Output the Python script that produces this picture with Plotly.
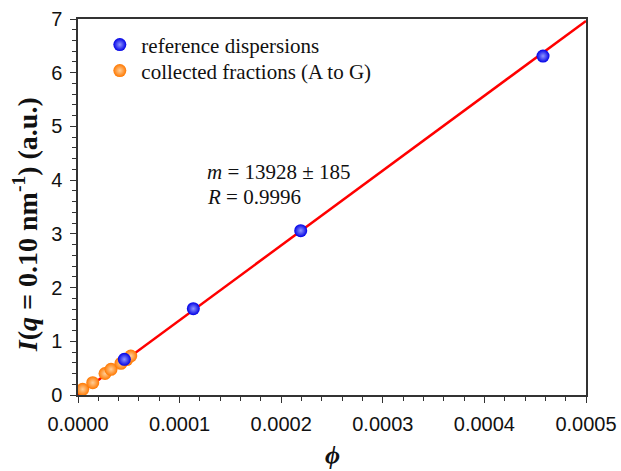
import plotly.graph_objects as go

# Data
ref_phi = [0.0000456, 0.0001135, 0.0002192, 0.0004577]
ref_I = [0.664, 1.607, 3.06, 6.31]
frac_phi = [0.0000046, 0.0000145, 0.0000266, 0.0000325, 0.0000423, 0.0000480, 0.0000519]
frac_I = [0.106, 0.229, 0.40, 0.478, 0.59, 0.66, 0.726]
fit_slope = 13928
fit_x = [0.0, 0.0005]
fit_y = [fit_slope * v for v in fit_x]
x_ticks = [0, 0.0001, 0.0002, 0.0003, 0.0004, 0.0005]
x_ticktext = ["0.0000", "0.0001", "0.0002", "0.0003", "0.0004", "0.0005"]

serif = "Liberation Serif, Times New Roman, serif"
sans = "Liberation Sans, Arial, sans-serif"

fig = go.Figure()
fig.add_trace(go.Scatter(x=fit_x, y=fit_y, mode="lines", line=dict(color="#ff0000", width=2.5),
                         showlegend=False, hoverinfo="skip"))
fig.add_trace(go.Scatter(x=frac_phi, y=frac_I, mode="markers", name="collected fractions (A to G)",
                         legend="legend2",
                         marker=dict(size=13, color="#ff7800", line=dict(width=0),
                                     gradient=dict(type="radial", color="#ffcf99"))))
fig.add_trace(go.Scatter(x=ref_phi, y=ref_I, mode="markers", name="reference dispersions",
                         legend="legend",
                         marker=dict(size=13, color="#0000e6", line=dict(width=0),
                                     gradient=dict(type="radial", color="#8f96ff"))))

axis_common = dict(showline=True, linecolor="#333", linewidth=1.5, mirror=True,
                   ticks="outside", ticklen=6, tickwidth=1.2, tickcolor="#333",
                   showgrid=False, zeroline=False, automargin=False,
                   tickfont=dict(family=sans, size=20, color="#111"))

fig.update_xaxes(range=[0, 0.0005], tickvals=x_ticks, ticktext=x_ticktext,
                 minor=dict(dtick=0.00002, ticks="outside", ticklen=4, tickcolor="#333", tickwidth=1.2),
                 ticklabelstandoff=4,
                 **axis_common)
fig.update_yaxes(range=[0, 7], dtick=1,
                 minor=dict(dtick=0.2, ticks="outside", ticklen=4, tickcolor="#333", tickwidth=1.2),
                 ticklabelstandoff=4,
                 **axis_common)

# axis titles
fig.add_annotation(xref="paper", yref="paper", x=0.5, y=-0.16, xanchor="center", yanchor="middle",
                   showarrow=False, text="<b><i>ϕ</i></b>",
                   font=dict(family=serif, size=26, color="#111"))
fig.add_annotation(xref="paper", yref="paper", x=-0.104, y=0.452, xanchor="center", yanchor="middle",
                   textangle=-90, showarrow=False,
                   text="<b><i>I</i>(<i>q</i> = 0.10 nm<sup>-1</sup>) (a.u.)</b>",
                   font=dict(family=serif, size=28, color="#111"))

fig.add_annotation(xref="x", yref="y", x=0.000125, y=4.15, xanchor="left", yanchor="middle",
                   showarrow=False, align="left",
                   text="<i>m</i> = 13928 ± 185",
                   font=dict(family=serif, size=21, color="#111"))
fig.add_annotation(xref="x", yref="y", x=0.000125, y=3.68, xanchor="left", yanchor="middle",
                   showarrow=False, align="left",
                   text="<i>R</i> = 0.9996",
                   font=dict(family=serif, size=21, color="#111"))

leg_common = dict(xanchor="left", yanchor="middle", x=0.04,
                  font=dict(family=serif, size=21, color="#111"),
                  bgcolor="rgba(0,0,0,0)", itemwidth=33)
fig.update_layout(width=621, height=471, margin=dict(l=78, r=35, t=19, b=76),
                  paper_bgcolor="white", plot_bgcolor="white",
                  legend=dict(y=0.931, **leg_common),
                  legend2=dict(y=0.862, **leg_common),
                  showlegend=True)

fig.write_html("out.html")
